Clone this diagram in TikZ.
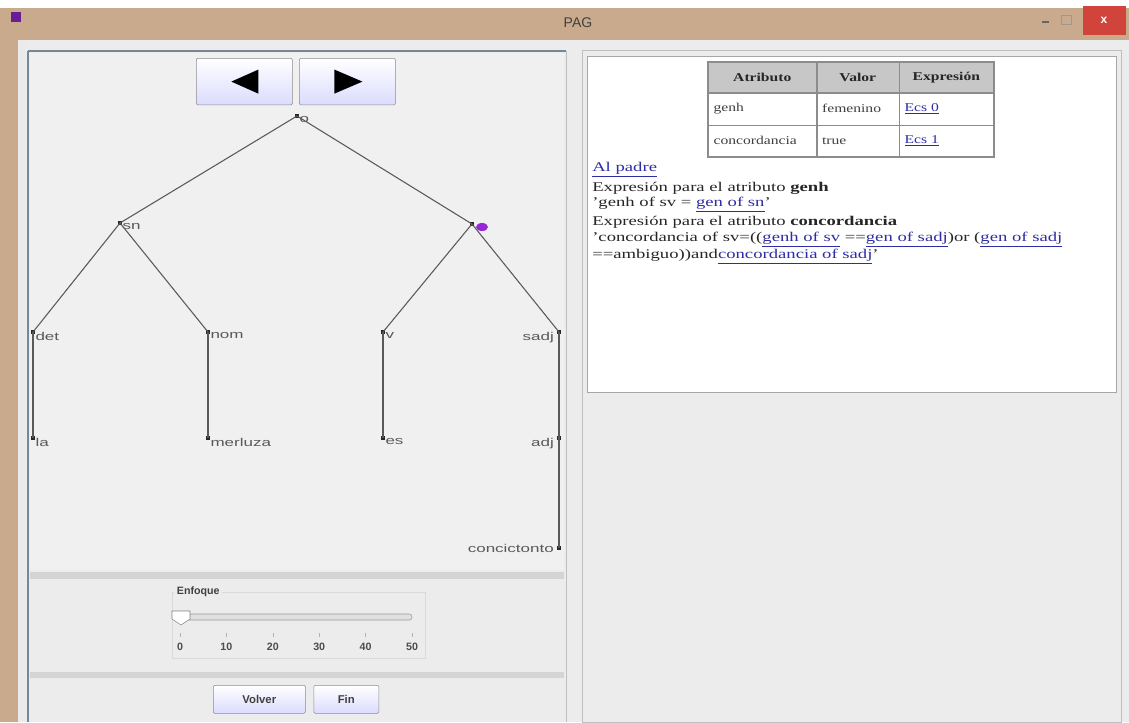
\documentclass[tikz,border=0pt]{standalone}
\usepackage{fontspec}
\setmainfont{Liberation Serif}[FakeStretch=1.4]
\setsansfont{Liberation Sans}
\newfontfamily\treefont{Liberation Sans}[FakeStretch=1.5]
\newfontfamily\tablefont{Liberation Serif}[FakeStretch=1.3]
\usetikzlibrary{positioning, calc}

\definecolor{wintan}{RGB}{201,170,141}
\definecolor{winred}{RGB}{208,68,60}
\definecolor{winbg}{RGB}{236,236,236}
\definecolor{treebg}{RGB}{240,240,240}
\definecolor{borderblue}{RGB}{118,136,150}
\definecolor{linkblue}{RGB}{45,45,165}
\definecolor{selpurple}{RGB}{150,40,215}

\newcommand{\lnk}[1]{\textcolor{linkblue}{\underline{#1}}}

\begin{document}
\begin{tikzpicture}[
    x=0.75pt, y=-0.75pt,
    every node/.style={inner sep=0pt},
    dot/.style={fill=black!85, minimum size=3pt},
    lbl/.style={font=\treefont\fontsize{8.5}{10}\selectfont, text=black!65},
    edge/.style={draw=black!65, line width=0.8pt},
    btn/.style={draw=black!45, top color=white, bottom color=blue!14, rounded corners=1pt},
    cell/.style={draw=black!45, inner xsep=4pt, inner ysep=2pt, align=left, font=\tablefont\fontsize{9}{10}\selectfont, text=black!75},
    txt/.style={anchor=west, font=\fontsize{10}{12}\selectfont, text=black!85},
    ticklbl/.style={font=\sffamily\bfseries\fontsize{8}{9}\selectfont, text=black!70}
]
\useasboundingbox (0,0) rectangle (1129,722);

% Window frame
\fill[winbg] (0,0) rectangle (1129,722);
\fill[white] (0,0) rectangle (1129,8);
\fill[wintan] (0,8) rectangle (1129,40);
\fill[wintan] (0,40) rectangle (18,722);
\fill[white!92!black] (18,40) rectangle (26,722);

% Title bar
\fill[selpurple!70!black] (11,12) rectangle (21,22);
\node[font=\sffamily\fontsize{10.5}{12}\selectfont, text=black!75] (title) at (578,23) {PAG};
\draw[black!60, line width=1.5pt] (1042,22) -- (1049,22);
\draw[black!40] (1061,15) rectangle (1071,24);
\fill[winred] (1083,6) rectangle (1126,35);
\node[font=\sffamily\bfseries\fontsize{9}{10}\selectfont, text=white] (close) at (1104,20) {x};

% Left panel
\draw[borderblue, line width=1.5pt] (28,51) -- (28,722);
\draw[borderblue, line width=1.2pt] (28,51) -- (566,51);
\fill[treebg] (30,53) rectangle (564,570);
\draw[black!25] (566,51) -- (566,722);
\fill[black!17] (30,572) rectangle (564,579);
\fill[black!17] (30,672) rectangle (564,678);

% Right panel
\draw[black!25] (582,50) rectangle (1121,722);
\draw[black!35, fill=white] (587,56) rectangle (1116,392);

% Navigation buttons
\node[btn, minimum width=72pt, minimum height=35pt, anchor=north west] (prev) at (196,58) {};
\node[btn, minimum width=72pt, minimum height=35pt, right=5pt of prev] (next) {};
\fill[black] ($(prev.center)+(-13,0)$) -- ++(27,-12) -- ++(0,24) -- cycle;
\fill[black] ($(next.center)+(15,0)$) -- ++(-28,-12) -- ++(0,24) -- cycle;

% Tree
\node[dot] (o) at (297,116) {};
\node[dot] (sn) at (120,223) {};
\node[dot] (sv) at (472,224) {};
\node[dot] (det) at (33,332) {};
\node[dot] (nom) at (208,332) {};
\node[dot] (v) at (383,332) {};
\node[dot] (sadj) at (559,332) {};
\node[dot] (la) at (33,438) {};
\node[dot] (merluza) at (208,438) {};
\node[dot] (es) at (383,438) {};
\node[dot] (adj) at (559,438) {};
\node[dot] (conc) at (559,548) {};

\foreach \a/\b in {o/sn, o/sv, sn/det, sn/nom, sv/v, sv/sadj,
                   det/la, nom/merluza, v/es, sadj/adj, adj/conc}
    \draw[edge] (\a.center) -- (\b.center);

% Selected node
\fill[selpurple] (482,227) ellipse (6 and 4);

% Tree labels
\node[lbl, anchor=north west] (lo) at (o.east) {o};
\node[lbl, anchor=north west] (lsn) at (sn.east) {sn};
\node[lbl, anchor=north west] (ldet) at (det.east) {det};
\node[lbl, anchor=north west] (lnom) at (nom.east) {nom};
\node[lbl, anchor=north west] (lv) at (v.east) {v};
\node[lbl, anchor=north east] (lsadj) at ([xshift=-2pt]sadj.west) {sadj};
\node[lbl, anchor=north west] (lla) at (la.east) {la};
\node[lbl, anchor=north west] (lmerluza) at (merluza.east) {merluza};
\node[lbl, anchor=north west] (les) at (es.east) {es};
\node[lbl, anchor=north east] (ladj) at ([xshift=-2pt]adj.west) {adj};
\node[lbl, anchor=south east] (lconc) at ([xshift=-2pt,yshift=-4pt]conc.west) {concictonto};

% Attribute table
\node[cell, fill=black!22, align=center, text width=73pt, minimum height=22.5pt, anchor=north west, text=black!85] (h1) at (708,62) {\textbf{Atributo}};
\node[cell, fill=black!22, align=center, text width=53.5pt, minimum height=22.5pt, right=0pt of h1, text=black!85] (h2) {\textbf{Valor}};
\node[cell, fill=black!22, align=center, text width=62.5pt, minimum height=22.5pt, right=0pt of h2, text=black!85] (h3) {\textbf{Expresión}};
\node[cell, text width=73pt, minimum height=24pt, below=0pt of h1] (r1a) {genh};
\node[cell, text width=53.5pt, minimum height=24pt, below=0pt of h2] (r1b) {femenino};
\node[cell, text width=62.5pt, minimum height=24pt, below=0pt of h3] (r1c) {\lnk{Ecs 0}};
\node[cell, text width=73pt, minimum height=23.25pt, below=0pt of r1a] (r2a) {concordancia};
\node[cell, text width=53.5pt, minimum height=23.25pt, below=0pt of r1b] (r2b) {true};
\node[cell, text width=62.5pt, minimum height=23.25pt, below=0pt of r1c] (r2c) {\lnk{Ecs 1}};
\draw[black!45, line width=1.5pt] (h1.north west) rectangle (r2c.south east);

% Expression text
\node[txt] (padre) at (592,170) {\lnk{Al padre}};
\node[txt] (e1) at (592,188) {Expresión para el atributo \textbf{genh}};
\node[txt] (e2) at (592,205) {'genh of sv = \lnk{gen of sn}'};
\node[txt] (e3) at (592,222) {Expresión para el atributo \textbf{concordancia}};
\node[txt] (e4) at (592,240) {'concordancia of sv=((\lnk{genh of sv} ==\lnk{gen of sadj})or (\lnk{gen of sadj}};
\node[txt] (e5) at (592,257) {==ambiguo))and\lnk{concordancia of sadj}'};

% Zoom slider
\draw[black!15] (172,592) rectangle (425,658);
\node[anchor=west, fill=winbg, inner sep=2pt, font=\sffamily\bfseries\fontsize{8}{9}\selectfont, text=black!75] (enfoque) at (174,592) {Enfoque};
\draw[black!40, fill=black!12, rounded corners=2pt] (178,614) rectangle (412,620);
\draw[black!50, fill=white] (172,611) -- (190,611) -- (190,619) -- (181,625) -- (172,619) -- cycle;
\foreach \v [count=\i from 0] in {0,10,20,30,40,50} {
    \draw[black!30] (180+46.4*\i,633) -- ++(0,4);
    \node[ticklbl] (t\v) at (180+46.4*\i,647) {\v};
}

% Bottom buttons
\node[btn, minimum width=69pt, minimum height=21pt, anchor=north west, font=\sffamily\bfseries\fontsize{8.5}{10}\selectfont, text=black!75] (volver) at (213,685) {Volver};
\node[btn, minimum width=48.75pt, minimum height=21pt, right=6pt of volver, font=\sffamily\bfseries\fontsize{8.5}{10}\selectfont, text=black!75] (fin) {Fin};

\end{tikzpicture}
\end{document}
